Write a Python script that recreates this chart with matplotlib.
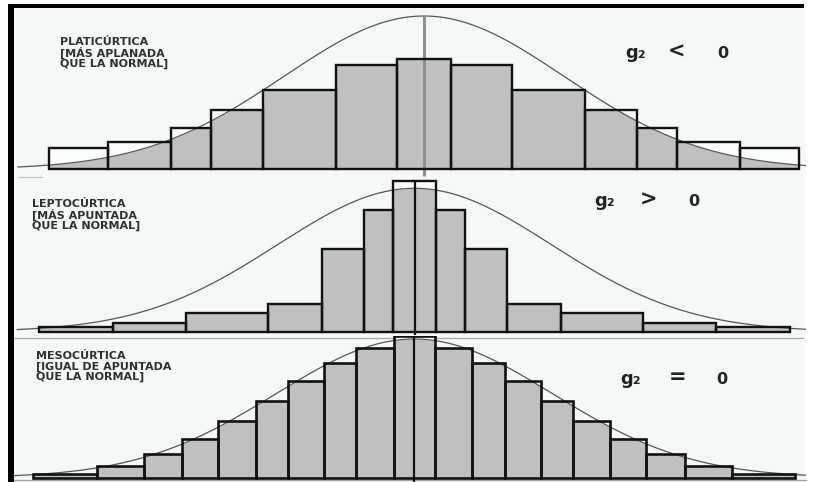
import numpy as np
import matplotlib
matplotlib.use("Agg")
import matplotlib.pyplot as plt
from matplotlib.patches import Rectangle
from matplotlib.lines import Line2D

plt.rcParams['font.family'] = ['DejaVu Sans']

# ---------------- data ----------------
# x: in standard deviations of the reference normal curve (0 = mean)
# heights: fraction of the normal curve's peak
plati_title = "PLATICÚRTICA\n[MÁS APLANADA\nQUE LA NORMAL]"
lepto_title = "LEPTOCÚRTICA\n[MÁS APUNTADA\nQUE LA NORMAL]"
meso_title = "MESOCÚRTICA\n[IGUAL DE APUNTADA\nQUE LA NORMAL]"
g2_symbol = "g₂"
g2_value = "0"
relations = ["<", ">", "="]

plati_edges = [-2.68, -2.26, -1.81, -1.52, -1.15, -0.63, -0.19,
               0.19, 0.63, 1.15, 1.52, 1.81, 2.26, 2.68]
plati_heights = [0.14, 0.18, 0.27, 0.39, 0.52, 0.68, 0.72,
                 0.68, 0.52, 0.39, 0.27, 0.18, 0.14]

lepto_edges = [-2.74, -2.20, -1.67, -1.07, -0.675, -0.37, -0.155,
               0.155, 0.37, 0.675, 1.07, 1.67, 2.20, 2.74]
lepto_heights = [0.035, 0.063, 0.13, 0.19, 0.575, 0.85, 1.05,
                 0.85, 0.575, 0.19, 0.13, 0.063, 0.035]

meso_edges = [-2.76, -2.30, -1.96, -1.68, -1.42, -1.15, -0.915, -0.655, -0.42, -0.15,
              0.15, 0.42, 0.655, 0.915, 1.15, 1.42, 1.68, 1.96, 2.30, 2.76]
meso_heights = [0.027, 0.087, 0.17, 0.28, 0.41, 0.55, 0.70, 0.825, 0.935, 1.02,
                0.935, 0.825, 0.70, 0.55, 0.41, 0.28, 0.17, 0.087, 0.027]

curve_range = (-2.9, 2.9)


def normal(x):
    return np.exp(-np.asarray(x) ** 2 / 2.0)


# ---------------- layout / style ----------------
W, HF = 814, 482
BG = '#f5f9f6'
GRAY = '#c0c0c0'
EDGE = '#111111'
TXT = '#2f2f2f'

fig = plt.figure(figsize=(W / 100, HF / 100), dpi=100)
fig.patch.set_facecolor('white')


def fx(px):
    return px / W


def fy(py):
    return 1 - py / HF


# page background and scanned borders
fig.add_artist(Rectangle((fx(14), fy(482)), fx(806) - fx(14), fy(8.3) - fy(482),
                         transform=fig.transFigure, facecolor=BG, edgecolor='none', zorder=-5))
fig.add_artist(Rectangle((fx(8), fy(8.3)), fx(804) - fx(8), fy(4) - fy(8.3),
                         transform=fig.transFigure, facecolor='black', edgecolor='none', zorder=20))
fig.add_artist(Rectangle((fx(8), fy(482)), fx(14) - fx(8), fy(4) - fy(482),
                         transform=fig.transFigure, facecolor='black', edgecolor='none', zorder=20))
# separator lines
fig.add_artist(Line2D([fx(18), fx(42)], [fy(177), fy(177)], transform=fig.transFigure,
                      color='#bdbdbd', lw=0.8, zorder=-1))
fig.add_artist(Line2D([fx(14), fx(803)], [fy(337.5), fy(337.5)], transform=fig.transFigure,
                      color='#a8a8a8', lw=0.9, zorder=-1))
fig.add_artist(Line2D([fx(14), fx(806)], [fy(479.8), fy(479.8)], transform=fig.transFigure,
                      color='#a0a0a0', lw=0.9, zorder=-1))

panels = [
    dict(edges=plati_edges, heights=plati_heights, title=plati_title, rel=relations[0],
         c=424, s=140, b=169.3, h=153.3, top=8.3, bot=178,
         tx=60, tb=66.7, ls=0.95, gx=625, rx=677, vx=722.5, gb=57.5),
    dict(edges=lepto_edges, heights=lepto_heights, title=lepto_title, rel=relations[1],
         c=414.5, s=137, b=331.7, h=143.4, top=178, bot=336,
         tx=32, tb=228.7, ls=0.98, gx=594.5, rx=648.5, vx=694.3, gb=206),
    dict(edges=meso_edges, heights=meso_heights, title=meso_title, rel=relations[2],
         c=414.3, s=138, b=477.7, h=138.7, top=336, bot=482,
         tx=36, tb=380, ls=1.02, gx=620, rx=677.5, vx=722, gb=383.5),
]

for k, p in enumerate(panels):
    ax = fig.add_axes([fx(14), fy(p['bot']), fx(806) - fx(14), fy(p['top']) - fy(p['bot'])])
    ax.set_xlim((14 - p['c']) / p['s'], (806 - p['c']) / p['s'])
    ax.set_ylim((p['b'] - p['bot']) / p['h'], (p['b'] - p['top']) / p['h'])
    ax.axis('off')

    edges = np.array(p['edges'])
    heights = np.array(p['heights'])
    lefts = edges[:-1]
    widths = np.diff(edges)

    # white bar bodies
    ax.bar(lefts, heights, widths, align='edge', color='#fbfdfc', edgecolor='none', zorder=1)
    # grey part of each bar: below the normal curve
    for l, r, hh in zip(edges[:-1], edges[1:], heights):
        xs = np.linspace(l, r, 80)
        ax.fill_between(xs, 0, np.minimum(hh, normal(xs)), color=GRAY, lw=0, zorder=2)
    # normal curve
    xc = np.linspace(curve_range[0], curve_range[1], 500)
    ax.plot(xc, normal(xc), color='#555555', lw=0.9, zorder=3)
    # mean line
    if k == 0:
        ax.vlines(0, -0.045, 1.0, color='#8f8f8f', lw=2.2, zorder=3.5)
    elif k == 1:
        ax.vlines(0, -0.023, heights[len(heights) // 2], color=EDGE, lw=1.6, zorder=5)
    else:
        ax.axvline(0, ymin=0.0, ymax=0.985, color=EDGE, lw=1.6, zorder=5)
    # bar outlines
    ax.bar(lefts, heights, widths, align='edge', fill=False, edgecolor=EDGE,
           lw=1.7 if k < 2 else 1.9, zorder=4)

    # labels
    fig.text(fx(p['tx']), fy(p['tb']), p['title'], fontsize=8, fontweight='bold',
             color=TXT, ha='left', va='baseline', linespacing=p['ls'])
    fig.text(fx(p['gx']), fy(p['gb']), g2_symbol, fontsize=13, fontweight='bold',
             color='#222222', ha='left', va='baseline')
    fig.text(fx(p['rx']), fy(p['gb']), p['rel'], fontsize=15, fontweight='bold',
             color='#222222', ha='center', va='baseline')
    fig.text(fx(p['vx']), fy(p['gb']), g2_value, fontsize=11.5, fontweight='bold',
             color='#222222', ha='center', va='baseline')

fig.savefig('out.png', dpi=100, facecolor=fig.get_facecolor())
